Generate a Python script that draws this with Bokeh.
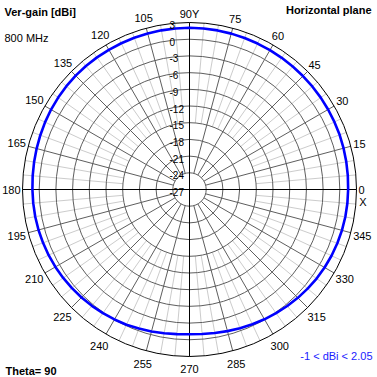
import numpy as np
from bokeh.plotting import figure
from bokeh.models import Range1d
from bokeh.embed import file_html
from bokeh.resources import INLINE
from bokeh.core.properties import value

# ---------------- data ----------------
angles_deg = list(range(0, 360, 5))
gain_dbi = [1.50, 1.55, 1.60, 1.65, 1.70, 1.72, 1.75, 1.78, 1.80, 1.82, 1.85, 1.88,
            1.90, 1.93, 1.96, 1.99, 2.02, 2.04, 2.05, 2.04, 2.03, 2.02, 2.00, 1.99,
            1.98, 1.97, 1.95, 1.92, 1.87, 1.80, 1.72, 1.62, 1.52, 1.43, 1.35, 1.28,
            1.22, 1.18, 1.14, 1.08, 1.00, 0.92, 0.82, 0.70, 0.57, 0.43, 0.28, 0.12,
            -0.04, -0.20, -0.42, -0.60, -0.78, -0.92, -1.00, -0.94, -0.82, -0.66, -0.48, -0.28,
            -0.08, 0.12, 0.32, 0.52, 0.70, 0.88, 1.02, 1.15, 1.26, 1.35, 1.42, 1.47]
ring_db = [3, 0, -3, -6, -9, -12, -15, -18, -21, -24]
ring_labels = ["3", "0", "-3", "-6", "-9", "-12", "-15", "-18", "-21", "-24", "-27"]
ring_label_db = [3, 0, -3, -6, -9, -12, -15, -18, -21, -24, -27]
angle_ticks = [0, 15, 30, 45, 60, 75, 90, 105, 120, 135, 150, 165,
               180, 195, 210, 225, 240, 255, 270, 285, 300, 315, 330, 345]
angle_tick_labels = ["0", "15", "30", "45", "60", "75", "90", "105", "120", "135", "150", "165",
                     "180", "195", "210", "225", "240", "255", "270", "285", "300", "315", "330", "345"]
db_min, db_max = -27, 3
title_left = "Ver-gain [dBi]"
freq_text = "800 MHz"
title_right = "Horizontal plane"
theta_text = "Theta= 90"
range_text = "-1 < dBi < 2.05"

# ---------------- layout ----------------
W = H = 377
CX, CY = 189.0, 189.0      # centre in pixels (from top-left)
R = 167.0                  # outer radius in pixels
S = R / (db_max - db_min)  # pixels per dB

def px(xp):
    return (xp - CX) / S

def py(yp):
    return (CY - yp) / S

FONT = value("Liberation Sans")
DARK = "#5e5e5e"
LIGHT = "#cccccc"

p = figure(width=W, height=H,
           x_range=Range1d(px(0), px(W)), y_range=Range1d(py(H), py(0)),
           output_backend="svg", toolbar_location=None, min_border=0,
           x_axis_location=None, y_axis_location=None,
           outline_line_color=None, background_fill_color="white",
           border_fill_color="white")
p.grid.visible = False

rmax = db_max - db_min

# light spokes every 5 deg (not multiples of 15) from -15 dB ring,
# dark spokes every 15 deg from -24 dB ring
lx, ly, dx, dy = [], [], [], []
for a in range(0, 360, 5):
    t = np.radians(a)
    c, s = np.cos(t), np.sin(t)
    if a % 15 != 0:
        r0 = -15 - db_min
        lx.append([r0 * c, rmax * c]); ly.append([r0 * s, rmax * s])
    elif a % 90 != 0:
        r0 = -24 - db_min
        dx.append([r0 * c, rmax * c]); dy.append([r0 * s, rmax * s])
p.multi_line(lx, ly, line_color=LIGHT, line_width=1)
p.multi_line(dx, dy, line_color=DARK, line_width=1)

# rings
inner = [d - db_min for d in ring_db if d < db_max]
p.circle(x=[0] * len(inner), y=[0] * len(inner), radius=inner,
         fill_color=None, line_color=DARK, line_width=1)

# axes
p.multi_line([[-rmax, rmax], [0, 0]], [[0, 0], [-rmax, rmax]], line_color="black", line_width=1)
# outer circle
p.circle(x=[0], y=[0], radius=[rmax], fill_color=None, line_color="black", line_width=1)

# trace
th = np.radians(np.array(angles_deg + [angles_deg[0]], dtype=float))
g = np.array(gain_dbi + [gain_dbi[0]]) - db_min
p.line(g * np.cos(th), g * np.sin(th), line_color="#0000ff", line_width=2.6, line_join="round")

# dB labels
p.text(x=[px(169)] * len(ring_labels),
       y=[(d - db_min) - 2.5 / S for d in ring_label_db],
       text=ring_labels, text_font=FONT, text_font_size="10px",
       text_align="left", text_baseline="middle", text_color="black")

# angle labels
axs, ays, atx = [], [], []
for a, lab in zip(angle_ticks, angle_tick_labels):
    t = np.radians(a)
    c, s = np.cos(t), np.sin(t)
    txt = lab + ("Y" if a == 90 else "")
    w = len(txt) * 6.1
    h = 8.0
    rr = R + 2 + abs(c) * w / 2 + abs(s) * h / 2 + (2.5 * s ** 4 if s > 0 else 6 * s ** 4)
    axs.append(rr * c / S); ays.append(rr * s / S); atx.append(txt)
p.text(x=axs, y=ays, text=atx, text_font=FONT, text_font_size="11px",
       text_align="center", text_baseline="middle", text_color="black")
p.text(x=[px(362.5)], y=[py(201)], text=["X"], text_font=FONT, text_font_size="11px",
       text_align="center", text_baseline="middle", text_color="black")

# titles
p.text(x=[px(4)], y=[py(11.5)], text=[title_left], text_font=FONT, text_font_size="11px",
       text_font_style="bold", text_align="left", text_baseline="middle")
p.text(x=[px(4)], y=[py(37.5)], text=[freq_text], text_font=FONT, text_font_size="11px",
       text_align="left", text_baseline="middle")
p.text(x=[px(371)], y=[py(9.5)], text=[title_right], text_font=FONT, text_font_size="11px",
       text_font_style="bold", text_align="right", text_baseline="middle")
p.text(x=[px(5)], y=[py(370)], text=[theta_text], text_font=FONT, text_font_size="11px",
       text_font_style="bold", text_align="left", text_baseline="middle")
p.text(x=[px(372)], y=[py(355)], text=[range_text], text_font=FONT, text_font_size="11px",
       text_align="right", text_baseline="middle", text_color="#1a1aff")

open("out.html", "w").write(file_html(p, INLINE))
